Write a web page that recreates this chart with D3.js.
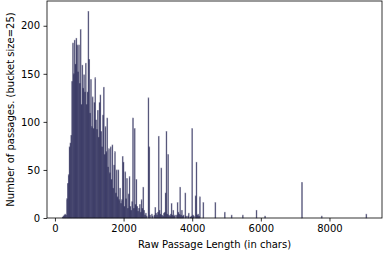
<!DOCTYPE html>
<html><head><meta charset="utf-8">
<script src="https://cdn.jsdelivr.net/npm/d3@7"></script>
<style>body{margin:0;background:#fff}svg{display:block}text{font-family:"DejaVu Sans",sans-serif;fill:#000}</style>
</head><body><svg id="c" width="389" height="256"></svg>
<script>
const bucketSize = 25;
const firstBinStart = 212;
const binCount = 355;
// counts for bins 0..164 (dense region)
const denseCounts = [1,2,3,4,3,20,36,45,74,78,86,142,182,150,185,160,187,180,152,180,
140,196,118,159,135,149,131,161,118,131,215,165,109,144,95,126,93,120,146,102,
92,112,84,120,128,90,74,107,136,66,95,69,104,53,72,47,74,40,76,31,
55,69,26,50,22,50,19,31,15,19,64,58,12,48,20,41,10,25,43,12,
8,17,104,10,93,14,40,12,7,10,14,6,19,10,32,8,3,5,2,0,
125,74,3,0,4,2,0,3,11,5,3,6,85,8,4,52,3,2,5,6,
26,90,4,66,3,2,4,15,3,8,2,3,0,3,16,6,4,32,3,8,
2,3,0,26,2,0,2,5,0,1,2,93,3,2,0,23,58,3,4,2,
22,0,0,0,16];
// isolated long-passage bins
const sparseBins = [178,189,197,210,226,236,279,302,354];
const sparseCounts = [16,6,3,3,8,2,37,2,4];
const xTicks = [0,2000,4000,6000,8000];
const yTicks = [0,50,100,150,200];
const xLabel = "Raw Passage Length (in chars)";
const yLabel = "Number of passages. (bucket size=25)";

const counts = new Array(binCount).fill(0);
denseCounts.forEach((v,i)=>counts[i]=v);
sparseBins.forEach((b,i)=>counts[b]=sparseCounts[i]);
const bins = counts.map((c,i)=>({x0:firstBinStart+i*bucketSize, x1:firstBinStart+(i+1)*bucketSize, c}));

const m = {l:47, r:382, t:1, b:218};
const xmin = bins[0].x0, xmax = bins[bins.length-1].x1, pad = (xmax-xmin)*0.05;
const x = d3.scaleLinear().domain([xmin-pad, xmax+pad]).range([m.l, m.r]);
const y = d3.scaleLinear().domain([0, d3.max(counts)*1.05]).range([m.b, m.t]);
const svg = d3.select("#c");

svg.append("g").selectAll("rect").data(bins.filter(d=>d.c>0)).join("rect")
  .attr("x", d=>x(d.x0)).attr("width", d=>x(d.x1)-x(d.x0))
  .attr("y", d=>y(d.c)).attr("height", d=>y(0)-y(d.c))
  .attr("fill", "rgb(28,28,78)").attr("fill-opacity", 0.72)
  .attr("stroke", "rgb(28,28,78)").attr("stroke-opacity",0.4).attr("stroke-width",0.7);

const xa = svg.append("g").attr("transform",`translate(0,${m.b})`)
  .call(d3.axisBottom(x).tickValues(xTicks).tickFormat(d3.format("d")).tickSizeOuter(0).tickSize(3.5).tickPadding(3.5));
const ya = svg.append("g").attr("transform",`translate(${m.l},0)`)
  .call(d3.axisLeft(y).tickValues(yTicks).tickFormat(d3.format("d")).tickSizeOuter(0).tickSize(3.5).tickPadding(3.5));
[xa,ya].forEach(a=>{a.select(".domain").remove();a.selectAll("line").attr("stroke","#000").attr("stroke-width",0.8);
  a.selectAll("text").attr("font-size",10).attr("font-family","DejaVu Sans").attr("fill","#000");});

svg.append("rect").attr("x",m.l).attr("y",m.t).attr("width",m.r-m.l).attr("height",m.b-m.t)
  .attr("fill","none").attr("stroke","#000").attr("stroke-width",0.8);

svg.append("text").attr("x",(m.l+m.r)/2).attr("y",248).attr("text-anchor","middle").attr("font-size",10).text(xLabel);
svg.append("text").attr("transform",`translate(14,${(m.t+m.b)/2}) rotate(-90)`).attr("text-anchor","middle").attr("font-size",10).text(yLabel);
</script></body></html>
